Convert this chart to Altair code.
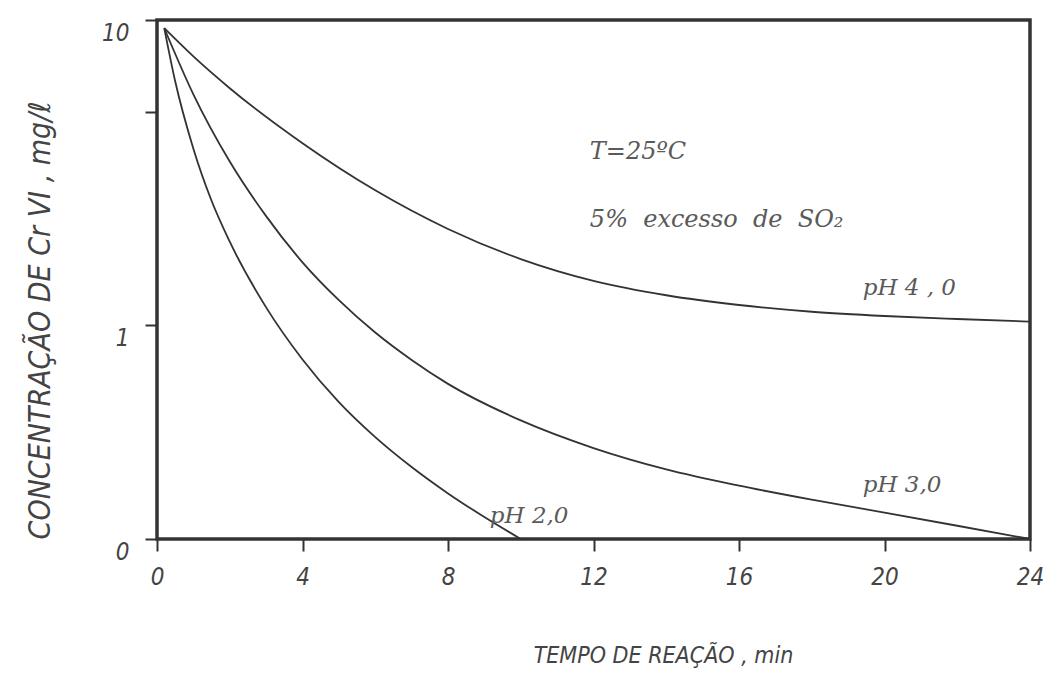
import altair as alt
import pandas as pd

# Cr(VI) reduction by SO2 at 25 °C: concentration (mg/L, log axis) vs reaction time (min)
t_ph4 = [0.2, 1, 2, 4, 6, 8, 10, 12, 14, 16, 18, 20, 22, 24]
c_ph4 = [9.4, 7.6, 5.98, 3.95, 2.77, 2.07, 1.65, 1.40, 1.256, 1.167, 1.109, 1.074, 1.05, 1.03]

t_ph3 = [0.2, 1, 2, 3, 4, 5, 6, 7, 8, 10, 12, 14, 16, 18, 20, 22, 24]
c_ph3 = [9.4, 5.71, 3.44, 2.28, 1.61, 1.21, 0.948, 0.771, 0.644, 0.489, 0.397, 0.338,
         0.299, 0.269, 0.244, 0.221, 0.2]

t_ph2 = [0.2, 0.5, 1, 1.5, 2, 3, 4, 5, 6, 7, 8, 9, 10]
c_ph2 = [9.4, 6.3, 3.79, 2.56, 1.88, 1.146, 0.774, 0.561, 0.431, 0.344, 0.282, 0.236, 0.2]

x_ticks = [0, 4, 8, 12, 16, 20, 24]
y_ticks = [0.2, 1, 5, 10]

# curve labels
curve_text = ["pH 4 , 0", "pH 3,0", "pH 2,0"]
curve_t = [19.4, 19.4, 9.15]
curve_c = [1.33, 0.30, 0.237]

# test conditions
cond_text = ["T=25ºC", "5%\u00a0 excesso\u00a0 de\u00a0 SO₂"]
cond_t = [11.9, 11.9]
cond_c = [3.70, 2.22]

curves = pd.concat([
    pd.DataFrame({"t": t_ph4, "c": c_ph4, "serie": "pH 4,0"}),
    pd.DataFrame({"t": t_ph3, "c": c_ph3, "serie": "pH 3,0"}),
    pd.DataFrame({"t": t_ph2, "c": c_ph2, "serie": "pH 2,0"}),
])
curve_notes = pd.DataFrame({"t": curve_t, "c": curve_c, "text": curve_text})
cond_notes = pd.DataFrame({"t": cond_t, "c": cond_c, "text": cond_text})

hand = "'Liberation Sans Narrow', 'DejaVu Sans Condensed', Roboto, sans-serif"
typed = "'DejaVu Serif', serif"
ink = "#333333"

x_enc = alt.X(
    "t:Q",
    scale=alt.Scale(domain=[0, 24], nice=False, zero=False),
    axis=alt.Axis(
        values=x_ticks, format="d", title="TEMPO DE REAÇÃO , min",
        domain=False, grid=False,
        tickSize=12, tickWidth=2, tickColor=ink,
        labelFont=hand, labelFontStyle="italic", labelFontSize=24, labelColor="#444",
        labelPadding=14, labelFlush=False,
        titleFont=hand, titleFontStyle="italic", titleFontWeight="normal",
        titleFontSize=23, titleColor="#444",
        titleX=506, titleY=116, titleAlign="center", titleBaseline="middle",
    ),
)
y_enc = alt.Y(
    "c:Q",
    scale=alt.Scale(type="log", domain=[0.2, 10], nice=False, clamp=True),
    axis=alt.Axis(
        values=y_ticks, title="CONCENTRAÇÃO DE Cr VI , mg/ℓ",
        labelExpr="datum.value >= 10 ? '10' : datum.value == 1 ? '1' : datum.value < 0.5 ? '0' : ''",
        domain=False, grid=False,
        tickSize=12, tickWidth=2, tickColor=ink,
        labelFont=hand, labelFontStyle="italic", labelFontSize=24, labelColor="#444",
        labelPadding=16, labelOffset=13,
        titleFont=hand, titleFontStyle="italic", titleFontWeight="normal",
        titleFontSize=30, titleColor="#444",
        titleX=-117, titleY=300, titleAlign="center", titleBaseline="middle", titleAngle=270,
    ),
)

lines = alt.Chart(curves).mark_line(
    interpolate="monotone", color=ink, strokeWidth=1.8
).encode(x=x_enc, y=y_enc, detail="serie:N")

curve_labels = alt.Chart(curve_notes).mark_text(
    align="left", baseline="middle", font=typed, fontStyle="italic",
    fontSize=23, color="#5a5a5a",
).encode(x="t:Q", y="c:Q", text="text:N")

cond_labels = alt.Chart(cond_notes).mark_text(
    align="left", baseline="middle", font=typed, fontStyle="italic",
    fontSize=24, color="#5a5a5a",
).encode(x="t:Q", y="c:Q", text="text:N")

chart = (
    alt.layer(lines, curve_labels, cond_labels)
    .properties(
        width=873, height=519,
        autosize=alt.AutoSizeParams(type="none"),
        padding={"left": 157, "top": 20, "right": 24, "bottom": 160},
        background="white",
    )
    .configure_view(stroke=ink, strokeWidth=3.5)
)

chart.save("out.html", embed_options={"renderer": "svg", "actions": False})
